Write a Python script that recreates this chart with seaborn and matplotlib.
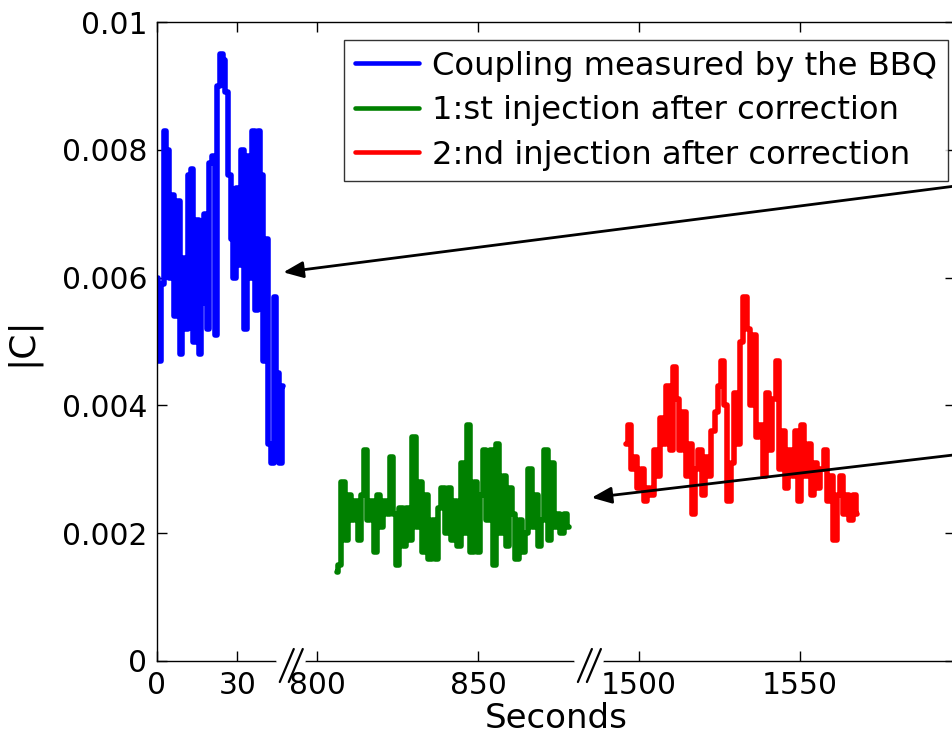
import numpy as np
import pandas as pd
import matplotlib
matplotlib.use("Agg")
import matplotlib.pyplot as plt
import seaborn as sns

# ---------------- data ----------------
blue_t = np.arange(0, 48)
blue_c = [0.0060, 0.0047, 0.0059, 0.0083, 0.0080, 0.0060, 0.0073, 0.0054, 0.0072, 0.0048,
          0.0063, 0.0052, 0.0076, 0.0077, 0.0050, 0.0069, 0.0048, 0.0056, 0.0070, 0.0052,
          0.0078, 0.0079, 0.0051, 0.0090, 0.0095, 0.0094, 0.0089, 0.0076, 0.0066, 0.0060,
          0.0074, 0.0062, 0.0080, 0.0052, 0.0079, 0.0060, 0.0083, 0.0055, 0.0083, 0.0076,
          0.0047, 0.0066, 0.0034, 0.0031, 0.0057, 0.0045, 0.0031, 0.0043]

green_t = np.arange(806, 879)
green_c = [0.0014, 0.0015, 0.0028, 0.0019, 0.0026, 0.0022, 0.0025, 0.0019, 0.0026, 0.0033,
           0.0022, 0.0025, 0.0017, 0.0026, 0.0021, 0.0025, 0.0023, 0.0032, 0.0023, 0.0015,
           0.0024, 0.0018, 0.0024, 0.0019, 0.0035, 0.0021, 0.0028, 0.0017, 0.0026, 0.0016,
           0.0022, 0.0016, 0.0024, 0.0027, 0.0020, 0.0027, 0.0019, 0.0025, 0.0018, 0.0031,
           0.0020, 0.0037, 0.0017, 0.0028, 0.0017, 0.0026, 0.0033, 0.0022, 0.0033, 0.0015,
           0.0034, 0.0020, 0.0029, 0.0018, 0.0027, 0.0023, 0.0016, 0.0022, 0.0017, 0.0020,
           0.0030, 0.0021, 0.0026, 0.0018, 0.0022, 0.0033, 0.0019, 0.0031, 0.0021, 0.0023,
           0.0020, 0.0023, 0.0021]

red_t = np.arange(1496, 1569)
red_c = [0.0034, 0.0037, 0.0030, 0.0032, 0.0027, 0.0030, 0.0025, 0.0027, 0.0026, 0.0033,
         0.0029, 0.0038, 0.0034, 0.0043, 0.0033, 0.0046, 0.0041, 0.0033, 0.0039, 0.0029,
         0.0034, 0.0023, 0.0030, 0.0033, 0.0026, 0.0032, 0.0029, 0.0036, 0.0039, 0.0043,
         0.0047, 0.0040, 0.0025, 0.0031, 0.0042, 0.0034, 0.0050, 0.0057, 0.0052, 0.0040,
         0.0051, 0.0035, 0.0037, 0.0029, 0.0042, 0.0033, 0.0041, 0.0047, 0.0030, 0.0036,
         0.0027, 0.0033, 0.0029, 0.0036, 0.0025, 0.0037, 0.0029, 0.0034, 0.0026, 0.0031,
         0.0027, 0.0030, 0.0033, 0.0025, 0.0029, 0.0019, 0.0026, 0.0029, 0.0023, 0.0026,
         0.0022, 0.0026, 0.0023]

labels = ["Coupling measured by the BBQ",
          "1:st injection after correction",
          "2:nd injection after correction"]
colors = ["#0000ff", "#008000", "#ff0000"]

xticks = [0, 30, 800, 850, 1500, 1550]
xticklabels = ["0", "30", "800", "850", "1500", "1550"]
yticks = [0, 0.002, 0.004, 0.006, 0.008, 0.01]
yticklabels = ["0", "0.002", "0.004", "0.006", "0.008", "0.01"]

# broken-axis scale knots (seconds -> compressed axis units)
knot_t = np.array([0, 50, 792, 884, 1485, 1700], dtype=float)
knot_u = np.array([0, 134.0, 134.5, 430.8, 433.85, 1124.0])
breaks_t = [421, 1184]

df = pd.DataFrame({
    "t": np.concatenate([blue_t, green_t, red_t]),
    "c": blue_c + green_c + red_c,
    "series": [labels[0]] * len(blue_t) + [labels[1]] * len(green_t) + [labels[2]] * len(red_t),
})

# ---------------- style ----------------
sns.set_theme(style="ticks")
plt.rcParams["font.family"] = ["DejaVu Sans"]
for k in ("text.color", "axes.labelcolor", "xtick.color", "ytick.color", "axes.edgecolor"):
    plt.rcParams[k] = "black"
FS_TICK = 21.4
FS_LEG = 23.2
FS_LAB = 24.5

fig = plt.figure(figsize=(9.53, 7.41), dpi=100)
ax = fig.add_axes([157 / 953, 80 / 741, 798 / 953, 639 / 741])

ax.set_xscale("function",
              functions=(lambda t: np.interp(t, knot_t, knot_u),
                         lambda u: np.interp(u, knot_u, knot_t)))

sns.lineplot(data=df, x="t", y="c", hue="series", palette=dict(zip(labels, colors)),
             estimator=None, sort=False, linewidth=4.0, drawstyle="steps-mid",
             legend=False, ax=ax)

ax.set_xlim(0, 1598.4)
ax.set_ylim(0, 0.01)
ax.set_xticks(xticks)
ax.set_xticklabels(xticklabels)
ax.set_yticks(yticks)
ax.set_yticklabels(yticklabels)
ax.minorticks_off()
ax.tick_params(axis="both", which="both", direction="in", length=7, width=1.0,
               top=True, right=True, labelsize=FS_TICK, colors="black", pad=7)
for s in ax.spines.values():
    s.set_visible(True)
    s.set_color("black")
    s.set_linewidth(1.0)

ax.set_xlabel("Seconds", fontsize=FS_LAB, labelpad=2)
ax.set_ylabel("|C|", fontsize=26, labelpad=16)

# legend
handles = [plt.Line2D([], [], color=c, lw=3.3) for c in colors]
leg = ax.legend(handles, labels, loc="upper right", bbox_to_anchor=(0.9912, 0.9718),
                borderaxespad=0, fontsize=FS_LEG, frameon=True, fancybox=False,
                edgecolor="black", handlelength=2.0, handletextpad=0.4,
                labelspacing=0.42, borderpad=0.33)
leg.get_frame().set_linewidth(1.0)

# axis break marks
fig.canvas.draw()
inv = ax.transAxes.inverted()
dxu = 1 / 798.0
dyu = 1 / 639.0
for tb in breaks_t:
    xd = ax.transData.transform((tb, 0))[0]
    xf = inv.transform((xd, 0))[0]
    ax.plot([xf - 12 * dxu, xf + 12 * dxu], [0, 0], color="white", lw=4,
            transform=ax.transAxes, clip_on=False, zorder=5)
    for off in (-4.5, 4.5):
        ax.plot([xf + (off - 7) * dxu, xf + (off + 7) * dxu], [-21 * dyu, 12 * dyu],
                color="black", lw=1.6, transform=ax.transAxes, clip_on=False, zorder=6)

# arrows (tails run off the right edge of the figure)
arrow_kw = dict(arrowstyle="-|>,head_length=0.6,head_width=0.25", color="black",
                lw=2.0, shrinkA=0, shrinkB=0, mutation_scale=20)
ax.annotate("", xy=(0.1583, 0.6083), xycoords="axes fraction",
            xytext=(1000, 741 - 180.3), textcoords="figure pixels",
            arrowprops=arrow_kw, annotation_clip=False)
ax.annotate("", xy=(0.5447, 0.2556), xycoords="axes fraction",
            xytext=(1000, 741 - 449.5), textcoords="figure pixels",
            arrowprops=arrow_kw, annotation_clip=False)

fig.savefig("out.png", dpi=100)
